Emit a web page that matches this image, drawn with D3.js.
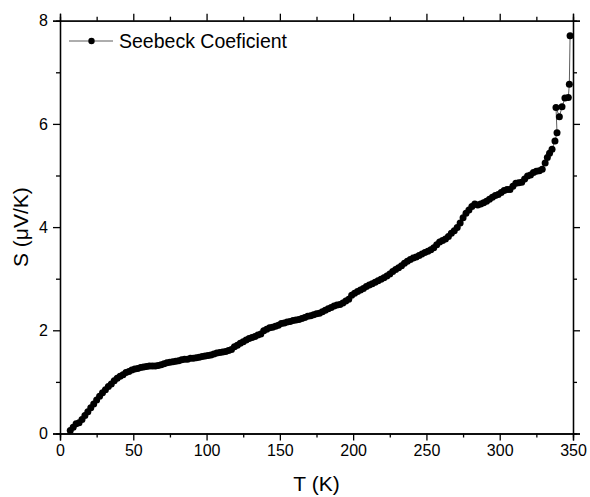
<!DOCTYPE html>
<html>
<head>
<meta charset="utf-8">
<script src="https://cdn.jsdelivr.net/npm/d3@7"></script>
<style>
  html, body { margin: 0; padding: 0; background: #fff; }
  text { font-family: "Liberation Sans", Arial, sans-serif; fill: #000; }
</style>
</head>
<body>
<svg id="chart" width="590" height="497"></svg>
<script>
const temperature = [7,9,11,13,15,17,19,21,23,25,27,29,31,33,35,37,39,41,43,45,47,49,51,53,55,57,59,61,63,65,67,69,71,73,75,77,79,81,83,85,87,89,91,93,95,97,99,101,103,105,107,109,111,113,115,117,119,121,123,125,127,129,131,133,135,137,139,141,143,145,147,149,151,153,155,157,159,161,163,165,167,169,171,173,175,177,179,181,183,185,187,189,191,193,195,197,199,201,203,205,207,209,211,213,215,217,219,221,223,225,227,229,231,233,235,237,239,241,243,245,247,249,251,253,255,257,259,261,263,265,267,269,271,273,275,277,279,281,283,285,287,289,291,293,295,297,299,301,303,305,307,309,311,313,315,317,319,321,323,325,327,329,331,332.5,334,335.7,337.7,339.1,338.4,340.7,342.5,344.5,346.8,347.5,348];
const seebeck = [0.06,0.12,0.19,0.21,0.27,0.35,0.42,0.50,0.57,0.65,0.72,0.79,0.85,0.91,0.96,1.02,1.07,1.11,1.14,1.18,1.20,1.23,1.25,1.26,1.28,1.29,1.30,1.31,1.31,1.31,1.32,1.33,1.35,1.37,1.38,1.39,1.40,1.41,1.43,1.44,1.44,1.46,1.46,1.47,1.48,1.49,1.50,1.51,1.52,1.54,1.56,1.57,1.58,1.59,1.61,1.63,1.68,1.71,1.75,1.78,1.81,1.84,1.86,1.88,1.91,1.93,1.99,2.02,2.05,2.06,2.08,2.10,2.13,2.14,2.16,2.17,2.19,2.20,2.21,2.23,2.25,2.27,2.28,2.30,2.32,2.33,2.36,2.39,2.42,2.44,2.47,2.49,2.50,2.53,2.57,2.60,2.68,2.72,2.75,2.78,2.81,2.85,2.88,2.90,2.93,2.96,2.99,3.02,3.05,3.09,3.14,3.18,3.21,3.25,3.30,3.34,3.37,3.40,3.42,3.45,3.48,3.51,3.53,3.56,3.60,3.66,3.71,3.74,3.77,3.82,3.88,3.93,3.99,4.08,4.18,4.27,4.33,4.40,4.45,4.43,4.45,4.47,4.50,4.54,4.58,4.61,4.63,4.67,4.71,4.73,4.73,4.79,4.85,4.86,4.87,4.93,4.99,5.01,5.06,5.08,5.09,5.12,5.24,5.35,5.43,5.51,5.67,5.83,6.32,6.14,6.33,6.50,6.51,6.77,7.71];
const xTicks = [0,50,100,150,200,250,300,350];
const xMinorTicks = [25,75,125,175,225,275,325];
const yTicks = [0,2,4,6,8];
const yMinorTicks = [1,3,5,7];
const seriesName = "Seebeck Coeficient";
const xTitle = "T (K)";
const yTitle = "S (\u03BCV/K)";

const svg = d3.select("#chart");
const m = {left: 60, right: 17, top: 20.7, bottom: 63.5};
const W = 590, H = 497;
const x = d3.scaleLinear().domain([0, 350]).range([m.left, W - m.right]);
const y = d3.scaleLinear().domain([0, 8]).range([H - m.bottom, m.top]);

const data = temperature.map((t, i) => ({t, s: seebeck[i]}));

svg.append("path")
  .datum(data)
  .attr("fill", "none")
  .attr("stroke", "#333")
  .attr("stroke-width", 0.8)
  .attr("d", d3.line().x(d => x(d.t)).y(d => y(d.s)));

svg.append("g").selectAll("circle")
  .data(data).enter().append("circle")
  .attr("cx", d => x(d.t)).attr("cy", d => y(d.s))
  .attr("r", 3.5).attr("fill", "#000");

const lw = 1.3;
function styleAxis(g) {
  g.selectAll(".domain").attr("stroke", "#000").attr("stroke-width", lw);
  g.selectAll(".tick line").attr("stroke", "#000").attr("stroke-width", lw);
}
const bottomMajor = svg.append("g").attr("transform", `translate(0,${y(0)})`)
  .call(d3.axisBottom(x).tickValues(xTicks).tickSizeOuter(0).tickSize(7).tickPadding(4).tickFormat(d3.format("d")));
bottomMajor.selectAll("text").attr("font-size", 16).attr("font-family", "Liberation Sans, Arial, sans-serif");
styleAxis(bottomMajor);
const bottomMinor = svg.append("g").attr("transform", `translate(0,${y(0)})`)
  .call(d3.axisBottom(x).tickValues(xMinorTicks).tickSizeOuter(0).tickSize(4).tickFormat(""));
styleAxis(bottomMinor);

const topMajor = svg.append("g").attr("transform", `translate(0,${y(8)})`)
  .call(d3.axisTop(x).tickValues(xTicks).tickSizeOuter(0).tickSize(7).tickFormat(""));
styleAxis(topMajor);
const topMinor = svg.append("g").attr("transform", `translate(0,${y(8)})`)
  .call(d3.axisTop(x).tickValues(xMinorTicks).tickSizeOuter(0).tickSize(4).tickFormat(""));
styleAxis(topMinor);

const leftMajor = svg.append("g").attr("transform", `translate(${x(0)},0)`)
  .call(d3.axisLeft(y).tickValues(yTicks).tickSizeOuter(0).tickSize(7).tickPadding(5).tickFormat(d3.format("d")));
leftMajor.selectAll("text").attr("font-size", 16).attr("font-family", "Liberation Sans, Arial, sans-serif");
styleAxis(leftMajor);
const leftMinor = svg.append("g").attr("transform", `translate(${x(0)},0)`)
  .call(d3.axisLeft(y).tickValues(yMinorTicks).tickSizeOuter(0).tickSize(4).tickFormat(""));
styleAxis(leftMinor);

const rightMajor = svg.append("g").attr("transform", `translate(${x(350)},0)`)
  .call(d3.axisRight(y).tickValues(yTicks).tickSizeOuter(0).tickSize(7).tickFormat(""));
styleAxis(rightMajor);
const rightMinor = svg.append("g").attr("transform", `translate(${x(350)},0)`)
  .call(d3.axisRight(y).tickValues(yMinorTicks).tickSizeOuter(0).tickSize(4).tickFormat(""));
styleAxis(rightMinor);

svg.append("text").attr("x", (x(0) + x(350)) / 2).attr("y", 491)
  .attr("text-anchor", "middle").attr("font-size", 21).text(xTitle);
svg.append("text")
  .attr("transform", `translate(28,${(y(0) + y(8)) / 2}) rotate(-90)`)
  .attr("text-anchor", "middle").attr("font-size", 21).text(yTitle);

const lg = svg.append("g");
lg.append("line").attr("x1", 69).attr("x2", 113).attr("y1", 41).attr("y2", 41)
  .attr("stroke", "#333").attr("stroke-width", 0.8);
lg.append("circle").attr("cx", 91.5).attr("cy", 41).attr("r", 3.2).attr("fill", "#000");
lg.append("text").attr("x", 119).attr("y", 47.5).attr("font-size", 19.5).text(seriesName);
</script>
</body>
</html>
